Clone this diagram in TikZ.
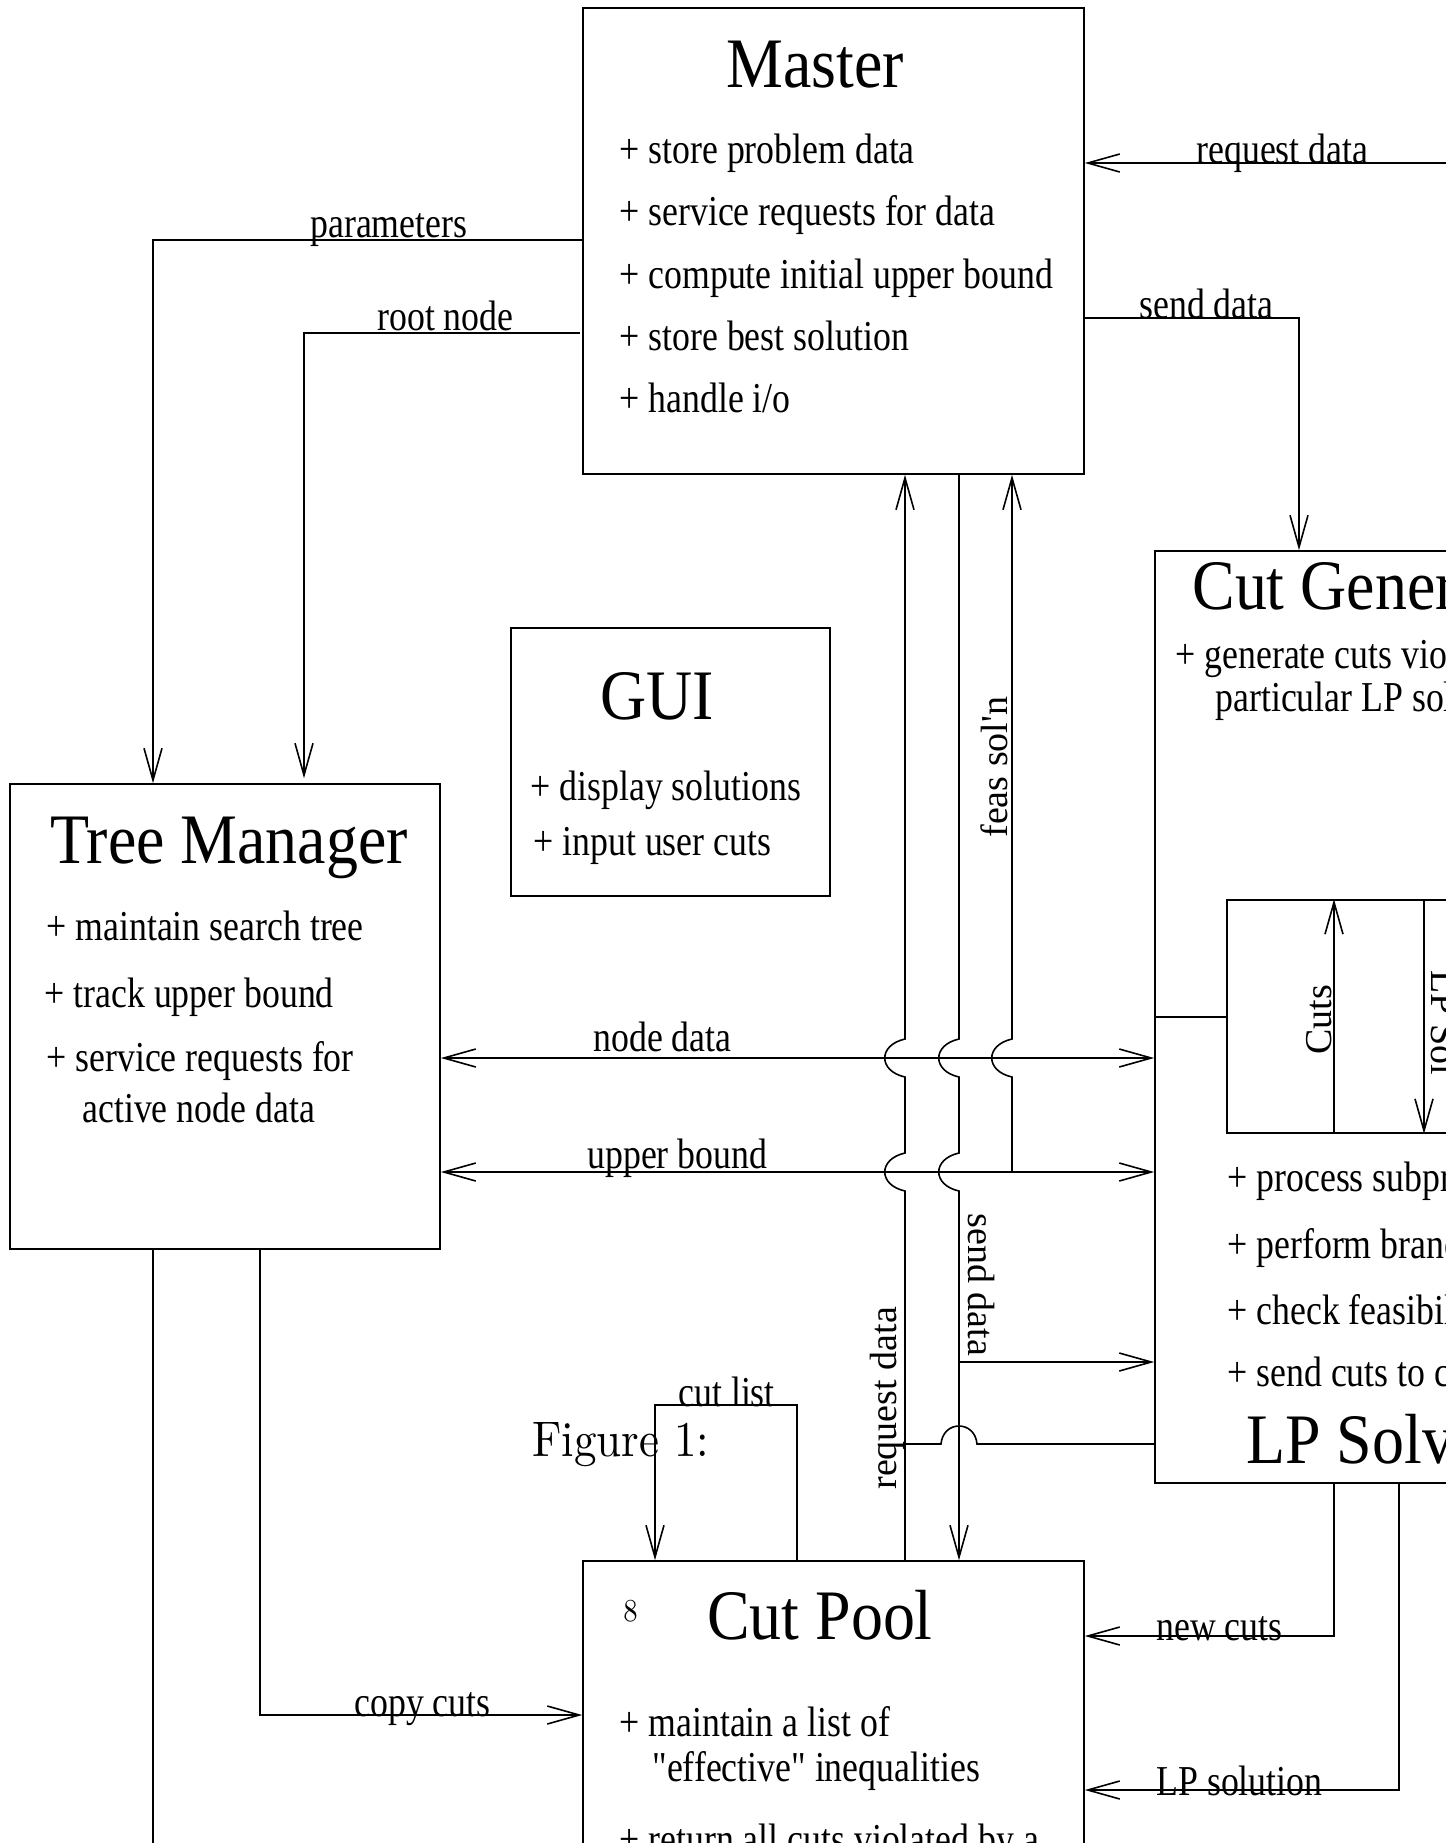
\documentclass[tikz,border=0pt]{standalone}
\usepackage{fontspec}
\setmainfont{Liberation Serif}[FakeStretch=0.84, Ligatures=TeXOff]
\newfontfamily\ttlfont{Liberation Serif}[FakeStretch=0.9]
\newfontfamily\rotfont{Liberation Serif}
\newfontfamily\cmfont{lmroman10-regular.otf}[FakeStretch=0.9]
\usetikzlibrary{arrows.meta,fit}
\tikzset{
  box/.style={draw, line width=0.8pt, inner sep=0pt},
  ln/.style={line width=0.8pt},
  arr/.style={ln, -{Straight Barb[length=16pt,width=9pt]}},
  biarr/.style={ln, {Straight Barb[length=16pt,width=9pt]}-{Straight Barb[length=16pt,width=9pt]}},
  txt/.style={inner sep=0pt, font=\fontsize{21.3}{25}\selectfont, anchor=base west},
  ttl/.style={inner sep=0pt, font=\ttlfont\fontsize{35.5}{42}\selectfont, anchor=base},
  ttlw/.style={inner sep=0pt, font=\ttlfont\fontsize{35.5}{42}\selectfont, anchor=base west},
  rlab/.style={inner sep=0pt, font=\rotfont\fontsize{19}{22}\selectfont, anchor=base west},
}
\begin{document}
\begin{tikzpicture}[x=0.5pt,y=-0.5pt]
\useasboundingbox (0,0) rectangle (1446,1843);
\clip (0,0) rectangle (1446,1843);

% ---------- boxes ----------
\node[box, fit={(583,8) (1084,474)}] (master) {};
\node[box, fit={(511,628) (830,896)}] (gui) {};
\node[box, fit={(10,784) (440,1249)}] (tm) {};
\node[box, fit={(1155,551) (1480,1483)}] (lp) {};
\node[box, fit={(1227,900) (1480,1133)}] (cg) {};
\node[box, fit={(583,1561) (1084,1880)}] (cp) {};

% ---------- Master ----------
\node[ttl] (mt) at (815,87) {Master};
\node[txt] (m1) at (619,163) {+ store problem data};
\node[txt] (m2) at (619,225) {+ service requests for data};
\node[txt] (m3) at (619,288) {+ compute initial upper bound};
\node[txt] (m4) at (619,350) {+ store best solution};
\node[txt] (m5) at (619,412) {+ handle i/o};

% ---------- GUI ----------
\node[ttl] (gt) at (657,719) {GUI};
\node[txt] (g1) at (530,800) {+ display solutions};
\node[txt] (g2) at (533,855) {+ input user cuts};

% ---------- Tree Manager ----------
\node[ttl] (tt) at (229,863) {Tree Manager};
\node[txt] (t1) at (46,940) {+ maintain search tree};
\node[txt] (t2) at (44,1007) {+ track upper bound};
\node[txt] (t3) at (46,1071) {+ service requests for};
\node[txt] (t4) at (82,1122) {active node data};

% ---------- Cut Generator / LP Solver ----------
\node[ttlw] (cgt) at (1192,609) {Cut Generator};
\node[txt] (c1) at (1175,668) {+ generate cuts violated by a};
\node[txt] (c2) at (1215,711) {particular LP solution};
\node[txt] (l1) at (1227,1191) {+ process subproblems};
\node[txt] (l2) at (1227,1258) {+ perform branching};
\node[txt] (l3) at (1227,1324) {+ check feasibility};
\node[txt] (l4) at (1227,1386) {+ send cuts to cut pool};
\node[ttlw] (lpt) at (1246,1463) {LP Solver};

% ---------- Cut Pool ----------
\node[ttl] (cpt) at (820,1639) {Cut Pool};
\node[inner sep=0pt, anchor=base west, font=\cmfont\fontsize{16}{18}\selectfont] (pg) at (623,1621) {8};
\node[txt] (p1) at (619,1736) {+ maintain a list of};
\node[txt] (p2) at (652,1781) {"effective" inequalities};
\node[txt] (p3) at (619,1853) {+ return all cuts violated by a};

\node[inner sep=0pt, anchor=base west, font=\cmfont\fontsize{25}{30}\selectfont] (fig) at (532,1456) {Figure 1:};

% ---------- coordinates ----------
\coordinate (rqe) at (1470,163);
\coordinate (sdm) at (1299,318);
\coordinate (par) at (153,240);
\coordinate (rtn) at (304,333);
\coordinate (tmb) at (153,1880);
\coordinate (cpy) at (260,1715);
\coordinate (cl1) at (797,1405);
\coordinate (cl2) at (655,1405);
\coordinate (nc) at (1334,1636);
\coordinate (lps) at (1399,1790);
\coordinate (nd) at (0,1058);
\coordinate (ub) at (0,1172);
\coordinate (vrq) at (905,0);
\coordinate (vsd) at (959,0);
\coordinate (vfs) at (1012,0);
\coordinate (sdj) at (959,1362);
\coordinate (rqj) at (905,1444);
\coordinate (cuts) at (1334,0);
\coordinate (lpsol) at (1424,0);
\coordinate (stub) at (0,1017);

% ---------- connectors ----------
\draw[arr] (rqe) -- (master.east |- rqe);
\draw[arr] (master.east |- sdm) -- (sdm) -- (lp.north -| sdm);
\draw[arr] (master.west |- par) -- (par) -- (tm.north -| par);
\draw[arr] (580,333) -- (rtn) -- ([yshift=2.5pt]tm.north -| rtn);

\draw[biarr] (tm.east |- nd) -- (lp.west |- nd);
\draw[biarr] (tm.east |- ub) -- (lp.west |- ub);

% request data (up to master, hops over node data and upper bound)
\draw[arr] (cp.north -| vrq) -- (905,1191) .. controls (878,1185) and (878,1159) .. (905,1153)
  -- (905,1077) .. controls (878,1071) and (878,1045) .. (905,1039) -- (master.south -| vrq);
% send data (down to cut pool)
\draw[arr] (master.south -| vsd) -- (959,1039) .. controls (932,1045) and (932,1071) .. (959,1077)
  -- (959,1153) .. controls (932,1159) and (932,1185) .. (959,1191) -- (cp.north -| vsd);
\draw[arr] (sdj) -- (lp.west |- sdj);
% feasible solution
\draw[arr] (ub -| vfs) -- (1012,1077) .. controls (985,1071) and (985,1045) .. (1012,1039) -- (master.south -| vfs);
% request data from LP solver
\draw[ln] (lp.west |- rqj) -- (977,1444) .. controls (975,1420) and (943,1420) .. (941,1444) -- (rqj);

% inside LP solver
\draw[ln] (lp.west |- stub) -- (cg.west |- stub);
\draw[arr] (cg.south -| cuts) -- (cg.north -| cuts);
\draw[arr] (cg.north -| lpsol) -- (cg.south -| lpsol);

% tree manager bottom
\draw[ln] (tm.south -| tmb) -- (tmb);
\draw[arr] (tm.south -| cpy) -- (cpy) -- (cp.west |- cpy);

% cut list
\draw[arr] (cp.north -| cl1) -- (cl1) -- (cl2) -- (cp.north -| cl2);

% new cuts, LP solution
\draw[arr] (lp.south -| nc) -- (nc) -- (cp.east |- nc);
\draw[arr] (lp.south -| lps) -- (lps) -- (cp.east |- lps);

% ---------- connector labels ----------
\node[txt] (lrq) at (1196,163) {request data};
\node[txt] (lsd) at (1139,318) {send data};
\node[txt] (lpar) at (310,237) {parameters};
\node[txt] (lrt) at (377,330) {root node};
\node[txt] (lnd) at (593,1051) {node data};
\node[txt] (lub) at (587,1168) {upper bound};
\node[txt] (lcl) at (678,1406) {cut list};
\node[txt] (lcc) at (354,1716) {copy cuts};
\node[txt] (lnc) at (1156,1640) {new cuts};
\node[txt] (llp) at (1156,1795) {LP solution};
\node[rlab, rotate=90] (lfs) at (1007,838) {feas sol'n};
\node[rlab, rotate=90] (lrq2) at (896,1490) {request data};
\node[rlab, rotate=-90] (lsd2) at (968,1213) {send data};
\node[rlab, rotate=90] (lcuts) at (1331,1055) {Cuts};
\node[rlab, rotate=-90] (llps) at (1431,970) {LP Sol};
\end{tikzpicture}
\end{document}
